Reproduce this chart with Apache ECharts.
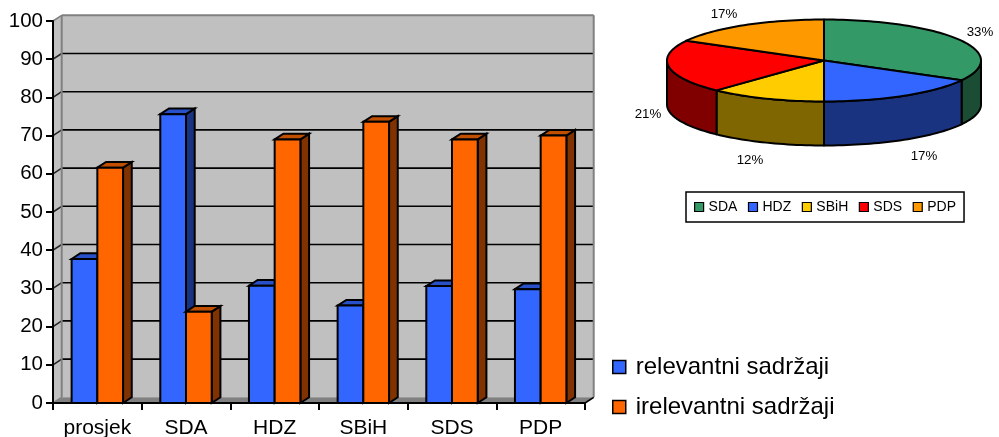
<!DOCTYPE html>
<html>
<head>
<meta charset="utf-8">
<style>html,body{margin:0;padding:0;background:#fff}#c{width:999px;height:437px}</style>
<script src="https://cdn.jsdelivr.net/npm/echarts@6/dist/echarts.min.js"></script>
</head>
<body>
<div id="c"></div>
<script>
const categories = ['prosjek','SDA','HDZ','SBiH','SDS','PDP'];
const relevantni = [37.7,75.6,30.7,25.5,30.6,29.8];
const irelevantni = [61.6,23.9,69,73.6,69,70];
const yTicks = [0,10,20,30,40,50,60,70,80,90,100];
const pieNames = ['SDA','HDZ','SBiH','SDS','PDP'];
const pieValues = [33,17,12,21,17];

const FONT = '"Liberation Sans", Arial, sans-serif';
const DEPTH_X = 8.7, DEPTH_Y = -5.7;
const BAR_RATIO = 0.29;
const barStyles = [
  {front:'#3366FF', top:'#2850C8', side:'#1A3380'},
  {front:'#FF6600', top:'#C04F00', side:'#803300'}
];
const pieColors = [
  {top:'#339966', side:'#1A4D33'},
  {top:'#3366FF', side:'#1A3380'},
  {top:'#FFCC00', side:'#806600'},
  {top:'#FF0000', side:'#800000'},
  {top:'#FF9900', side:'#804D00'}
];
const PIE = {cx:824, cy:60.5, rx:157, ry:41, h:44};
const pieLabelPos = [[980,32],[924,156],[750,160],[648,114],[724,14]];

function wallItem(params, api) {
  const cats = categories.length;
  const p = (c, v, back) => {
    const pt = api.coord([c, v]);
    const half = api.size([1,0])[0] / 2;
    return back ? [pt[0]-half+DEPTH_X, pt[1]+DEPTH_Y] : [pt[0]-half, pt[1]];
  };
  const poly = (points, fill, stroke, lw) => ({
    type:'polygon', shape:{points},
    style:{fill:fill, stroke:stroke||null, lineWidth:lw||0}
  });
  const line = (a, b, stroke, lw) => ({
    type:'line', shape:{x1:a[0],y1:a[1],x2:b[0],y2:b[1]},
    style:{stroke, lineWidth:lw}
  });
  const children = [];
  children.push(poly([p(0,0,true),p(0,100,true),p(cats,100,true),p(cats,0,true)],'#C0C0C0'));
  children.push(poly([p(0,0,false),p(0,100,false),p(0,100,true),p(0,0,true)],'#C0C0C0'));
  children.push(poly([p(0,0,false),p(0,0,true),p(cats,0,true),p(cats,0,false)],'#808080'));
  yTicks.forEach(v => {
    const inner = v > 0 && v < 100;
    if (inner) children.push(line(p(0,v,true), p(cats,v,true), '#000', 1.6));
    children.push(line(p(0,v,false), p(0,v,true), inner ? '#222' : '#808080', 1.6));
  });
  children.push(line(p(0,100,true), p(cats,100,true), '#808080', 2));
  children.push(line(p(0,0,true), p(0,100,true), '#808080', 2));
  children.push(line(p(cats,0,true), p(cats,100,true), '#808080', 2));
  children.push(line(p(cats,0,false), p(cats,0,true), '#000', 1.6));
  return {type:'group', children};
}

function barRenderer(seriesIndex) {
  return function (params, api) {
    const top = api.coord([api.value(0), api.value(1)]);
    const base = api.coord([api.value(0), 0]);
    const w = api.size([1,0])[0] * BAR_RATIO;
    const x0 = top[0] + (seriesIndex === 0 ? -w : 0);
    const x1 = x0 + w, y0 = top[1], y1 = base[1];
    const s = barStyles[seriesIndex];
    const edge = {stroke:'#000', lineWidth:2, lineJoin:'miter'};
    return {type:'group', children:[
      {type:'polygon', shape:{points:[[x1,y0],[x1+DEPTH_X,y0+DEPTH_Y],[x1+DEPTH_X,y1+DEPTH_Y],[x1,y1]]},
       style:Object.assign({fill:s.side}, edge)},
      {type:'polygon', shape:{points:[[x0,y0],[x0+DEPTH_X,y0+DEPTH_Y],[x1+DEPTH_X,y0+DEPTH_Y],[x1,y0]]},
       style:Object.assign({fill:s.top}, edge)},
      {type:'rect', shape:{x:x0,y:y0,width:w,height:y1-y0},
       style:Object.assign({fill:s.front}, edge)}
    ]};
  };
}

const pieTotal = pieValues.reduce((a,b)=>a+b,0);
function pieRenderer(i) {
  return function () {
    const before = pieValues.slice(0,i).reduce((a,b)=>a+b,0);
    const a0 = before / pieTotal * Math.PI * 2;
    const a1 = (before + pieValues[i]) / pieTotal * Math.PI * 2;
    const pt = (a, dy) => [PIE.cx + PIE.rx*Math.sin(a), PIE.cy - PIE.ry*Math.cos(a) + (dy||0)];
    const arc = (s, e, dy) => {
      const n = Math.max(2, Math.ceil((e-s)/0.03));
      const out = [];
      for (let k=0;k<=n;k++) out.push(pt(s+(e-s)*k/n, dy));
      return out;
    };
    const edge = {stroke:'#000', lineWidth:2, lineJoin:'round'};
    const children = [];
    const s0 = Math.max(a0, Math.PI/2), s1 = Math.min(a1, Math.PI*1.5);
    if (s1 > s0) {
      const front = arc(s0,s1,0);
      const bottom = arc(s0,s1,PIE.h).reverse();
      children.push({type:'polygon', shape:{points:front.concat(bottom)},
        style:Object.assign({fill:pieColors[i].side}, edge)});
    }
    const topPts = [[PIE.cx,PIE.cy]].concat(arc(a0,a1,0));
    children.push({type:'polygon', shape:{points:topPts},
      style:Object.assign({fill:pieColors[i].top}, edge)});
    const lp = pieLabelPos[i];
    children.push({type:'text', style:{
      x:lp[0], y:lp[1], text: pieValues[i] + '%',
      fill:'#000', font:'13.3px ' + FONT, align:'center', verticalAlign:'middle'
    }});
    return {type:'group', children};
  };
}

const series = [
  {name:'zid', type:'custom', coordinateSystem:'cartesian2d', renderItem:wallItem,
   data:[[0,0]], z:1, silent:true, clip:false},
  {name:'relevantni sadržaji', type:'custom', coordinateSystem:'cartesian2d',
   renderItem:barRenderer(0), itemStyle:{color:barStyles[0].front},
   data:relevantni.map((v,i)=>[i,v]), z:2, clip:false},
  {name:'irelevantni sadržaji', type:'custom', coordinateSystem:'cartesian2d',
   renderItem:barRenderer(1), itemStyle:{color:barStyles[1].front},
   data:irelevantni.map((v,i)=>[i,v]), z:3, clip:false}
];
pieNames.forEach((n,i) => series.push({
  name:n, type:'custom', coordinateSystem:'none', renderItem:pieRenderer(i),
  itemStyle:{color:pieColors[i].top}, data:[[pieValues[i]]], z:4
}));

const chart = echarts.init(document.getElementById('c'), null, {renderer:'canvas'});
chart.setOption({
  animation:false,
  backgroundColor:'#fff',
  grid:{left:53, right:414, top:21, bottom:34, containLabel:false, outerBoundsMode:'none'},
  xAxis:{
    type:'category', data:categories, boundaryGap:true,
    axisLine:{show:true, onZero:false, lineStyle:{color:'#000', width:2}},
    axisTick:{show:true, length:7, lineStyle:{color:'#000', width:2}},
    axisLabel:{color:'#000', fontFamily:FONT, fontSize:21, margin:15, interval:0},
    splitLine:{show:false}, z:5
  },
  yAxis:{
    type:'value', min:0, max:100, interval:10,
    axisLine:{show:true, lineStyle:{color:'#000', width:2}},
    axisTick:{show:true, length:7, lineStyle:{color:'#000', width:2}},
    axisLabel:{color:'#000', fontFamily:FONT, fontSize:20.5, margin:10},
    splitLine:{show:false}, z:5
  },
  legend:[
    {
      data:[{name:'relevantni sadržaji',icon:'rect'},{name:'irelevantni sadržaji',icon:'rect'}],
      orient:'vertical', left:612, top:355, padding:0, itemGap:16,
      itemWidth:13, itemHeight:13, selectedMode:false,
      itemStyle:{borderColor:'#000', borderWidth:1.5},
      textStyle:{color:'#000', fontFamily:FONT, fontSize:24, padding:[0,0,0,5]}
    },
    {
      data:pieNames.map(n=>({name:n,icon:'rect'})),
      orient:'horizontal', left:686, top:192, width:280,
      padding:[8,8,8,8], itemGap:10.5, itemWidth:9, itemHeight:9, selectedMode:false,
      borderColor:'#000', borderWidth:1.5, backgroundColor:'#fff',
      itemStyle:{borderColor:'#000', borderWidth:1.2},
      textStyle:{color:'#000', fontFamily:FONT, fontSize:14}
    }
  ],
  series
});
</script>
</body>
</html>
